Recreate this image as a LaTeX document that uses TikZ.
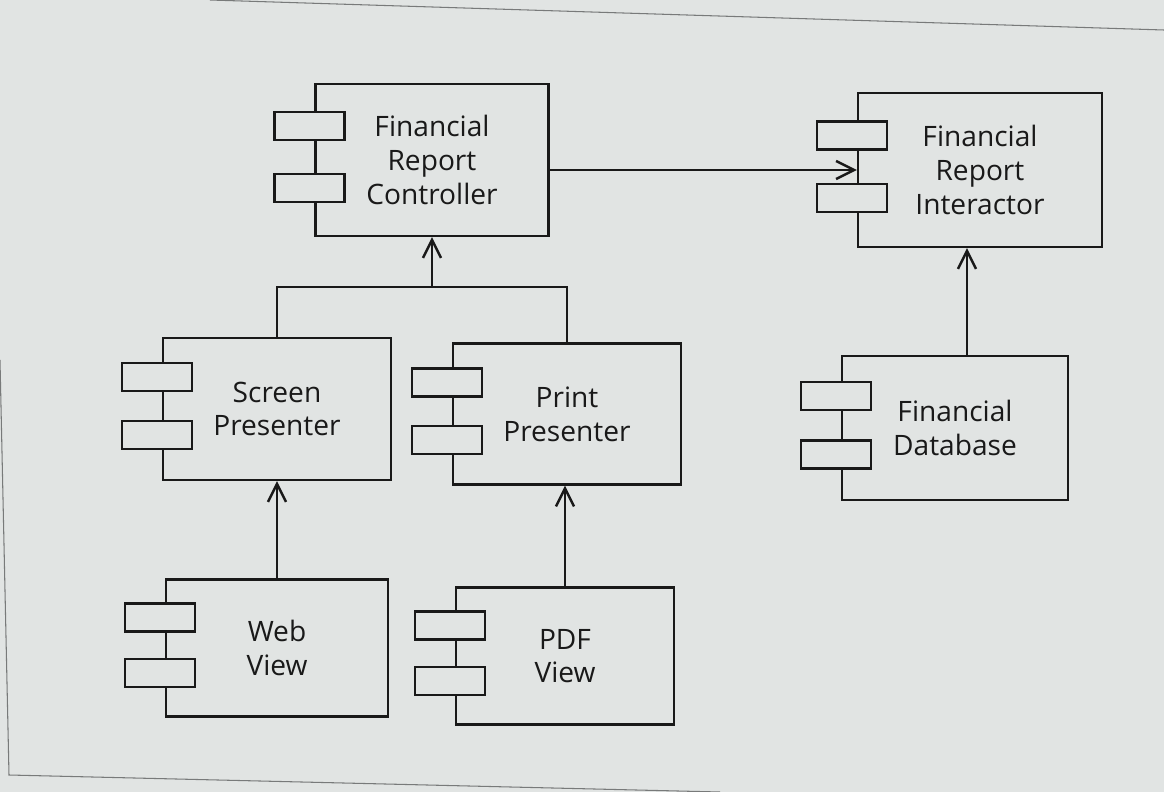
\documentclass[tikz,border=0pt]{standalone}
\usepackage{fontspec}
\setmainfont{Open Sans}
\usetikzlibrary{arrows.meta,calc}
\definecolor{screenbg}{RGB}{225,228,227}
\definecolor{framegray}{RGB}{120,122,122}
\definecolor{inkgray}{RGB}{25,25,25}
\tikzset{
  comp/.style={draw=inkgray, line width=1.4pt, fill=screenbg, align=center,
    inner sep=0pt, font=\fontsize{16}{19.2}\selectfont, text=inkgray},
  port/.style={draw=inkgray, line width=1.4pt, fill=screenbg,
    minimum width=1.4cm, minimum height=0.56cm, inner sep=0pt},
  dep/.style={draw=inkgray, line width=1.4pt,
    -{Straight Barb[length=3.6mm,width=3.6mm,line width=1.4pt]}}
}
% two small boxes on the left edge of a component
\newcommand{\compports}[1]{%
  \node[port] (#1-p1) at ($(#1.north west)!0.28!(#1.south west)+(-0.1,0)$) {};
  \node[port] (#1-p2) at ($(#1.north west)!0.68!(#1.south west)+(-0.1,0)$) {};
}
\begin{document}
\begin{tikzpicture}
  % screen background and frame
  \fill[screenbg] (0,0) rectangle (23.28,-15.84);
  \useasboundingbox (0,0) rectangle (23.28,-15.84);
  \draw[framegray, line width=0.6pt] (4.2,0) -- (23.28,-0.6);
  \draw[framegray, line width=0.6pt] (0,-7.2) -- (0.18,-15.5) -- (14.4,-15.84);

  % components
  \node[comp, minimum width=4.66cm, minimum height=3.04cm] (ctrl) at (8.64,-3.2)
    {Financial\\Report\\Controller};
  \node[comp, minimum width=4.88cm, minimum height=3.08cm] (inter) at (19.6,-3.4)
    {Financial\\Report\\Interactor};
  \node[comp, minimum width=4.56cm, minimum height=2.84cm] (screen) at (5.54,-8.18)
    {Screen\\Presenter};
  \node[comp, minimum width=4.56cm, minimum height=2.82cm] (print) at (11.34,-8.28)
    {Print\\Presenter};
  \node[comp, minimum width=4.52cm, minimum height=2.88cm] (db) at (19.1,-8.56)
    {Financial\\Database};
  \node[comp, minimum width=4.44cm, minimum height=2.74cm] (web) at (5.54,-12.96)
    {Web\\View};
  \node[comp, minimum width=4.36cm, minimum height=2.74cm] (pdf) at (11.3,-13.12)
    {PDF\\View};

  \compports{ctrl}
  \compports{inter}
  \compports{screen}
  \compports{print}
  \compports{db}
  \compports{web}
  \compports{pdf}

  % dependencies
  \draw[dep] (ctrl.east |- inter.west) -- (inter.west);
  \coordinate (join) at ([yshift=-1cm]ctrl.south);
  \draw[draw=inkgray, line width=1.4pt] (screen.north) |- (join) -| (print.north);
  \draw[dep] (join) -- (ctrl.south);
  \draw[dep] (web.north) -- (screen.south);
  \draw[dep] (pdf.north) -- (pdf.north |- print.south);
  \draw[dep] ([xshift=0.24cm]db.north) -- ([xshift=0.24cm]db.north |- inter.south);
\end{tikzpicture}
\end{document}
